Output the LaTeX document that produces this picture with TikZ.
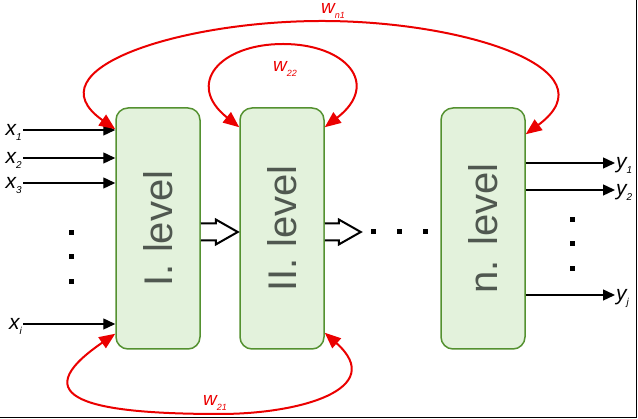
\documentclass[tikz,border=0pt]{standalone}
\usepackage{fontspec}
\setmainfont{Liberation Sans}
\usepackage{tikz}
\usetikzlibrary{
  arrows.meta,
  calc
}
\usepackage{xcolor}
\definecolor{boxfill}{RGB}{227, 242, 220}
\definecolor{boxline}{RGB}{84, 145, 48}
\definecolor{boxtext}{RGB}{80, 88, 80}
\definecolor{fbred}{RGB}{235, 0, 0}
\tikzset{
  % Bloklar (level)
  levelbox/.style = {draw=boxline, fill=boxfill, line width=1.5pt,
                     rounded corners=12pt, minimum width=84pt,
                     minimum height=241pt, inner sep=0pt, text=boxtext,
                     font=\fontsize{40}{40}\selectfont},
  % Kirish / chiqish signallari
  sigline/.style  = {line width=1.4pt, -{Triangle[length=12pt,width=11pt]}},
  siglab/.style   = {font=\fontsize{21}{21}\selectfont\itshape, inner sep=1pt,
                     text height=12.5pt, text depth=2pt},
  % Teskari aloqa (feedback)
  fbline/.style   = {line width=2pt, draw=fbred,
                     {Triangle[length=16pt,width=13pt]}-{Triangle[length=16pt,width=13pt]}},
  fblab/.style    = {text=fbred, font=\fontsize{19}{19}\selectfont\itshape,
                     inner sep=0pt, text height=11.8pt, text depth=2pt},
  % Bo'sh strelka va nuqtalar
  hollow/.style   = {line width=2pt, draw=black, fill=white, line join=miter},
  dotsq/.style    = {rectangle, fill=black, minimum size=5pt, inner sep=0pt},
  frameline/.style= {line width=1.5pt},
}
\newcommand{\sublab}[3][10]{#2\raisebox{-5pt}{\fontsize{#1}{#1}\selectfont #3}}

\begin{document}
\begin{tikzpicture}[x=1pt, y=1pt]
  \useasboundingbox (0,0) rectangle (638,419);
  % Bloklar
  \node[levelbox] (l1) at (158,190.5) {\rotatebox{90}{I. level}};
  \node[levelbox] (l2) at (282,190.5) {\rotatebox{90}{II. level}};
  \node[levelbox] (ln) at (483,190.5) {\rotatebox{90}{n. level}};
  % Kirishlar
  \node[siglab, anchor=east] (x1) at (23,289) {\sublab{x}{1}};
  \node[siglab, anchor=east] (x2) at (23,261) {\sublab{x}{2}};
  \node[siglab, anchor=east] (x3) at (23,236) {\sublab{x}{3}};
  \node[siglab, anchor=east] (xi) at (23,95) {\sublab{x}{i}};
  \foreach \n in {x1,x2,x3,xi} \draw[sigline] (\n.east) -- (\n.east -| l1.west);
  \foreach \y [count=\i] in {186,162,137} \node[dotsq] (ldot\i) at (71,\y) {};
  % Chiqishlar
  \node[siglab, anchor=west] (y1) at (615,256) {\sublab{y}{1}};
  \node[siglab, anchor=west] (y2) at (615,229) {\sublab{y}{2}};
  \node[siglab, anchor=west] (yj) at (615,124) {\sublab{y}{j}};
  \foreach \n in {y1,y2,yj} \draw[sigline] (\n.west -| ln.east) -- (\n.west);
  \foreach \y [count=\i] in {199,175,150} \node[dotsq] (rdot\i) at (572,\y) {};
  % Bloklar orasidagi strelkalar
  \draw[hollow] ($(l1.east)+(0,5)$) -- ++(15,0) -- ++(0,4) -- ++(22,-12.5)
    -- ++(-22,-12.5) -- ++(0,4) -- ++(-15,0);
  \draw[hollow] ($(l2.east)+(0,5)$) -- ++(14,0) -- ++(0,4) -- ++(22,-12.5)
    -- ++(-22,-12.5) -- ++(0,4) -- ++(-14,0);
  \foreach \x [count=\i] in {373,399,425} \node[dotsq] (mdot\i) at (\x,187) {};
  % Teskari aloqalar
  \draw[fbline] ($(l1.north west)+(0,-22)$) .. controls (30,350) and (180,398)
    .. (322,398) .. controls (464,398) and (614,350) .. ($(ln.north east)+(0,-27)$);
  \draw[fbline] ($(l2.north west)+(0,-20)$) .. controls (185,335) and (220,375)
    .. (283,375) .. controls (346,375) and (381,335) .. ($(l2.north east)+(0,-20)$);
  \draw[fbline] ($(l1.south west)+(0,16)$) .. controls (20,20) and (92,5)
    .. (220,5) .. controls (300,5) and (388,30) .. ($(l2.south east)+(0,17)$);
  \node[fblab] (wn1) at (333,410) {\sublab[9]{w}{n1}};
  \node[fblab] (w22) at (285,352) {\sublab[9]{w}{22}};
  \node[fblab] (w21) at (215,18) {\sublab[9]{w}{21}};
  % Ramka
  \draw[frameline] (0,1.5) -- (636.5,1.5) -- (636.5,419);
\end{tikzpicture}
\end{document}
